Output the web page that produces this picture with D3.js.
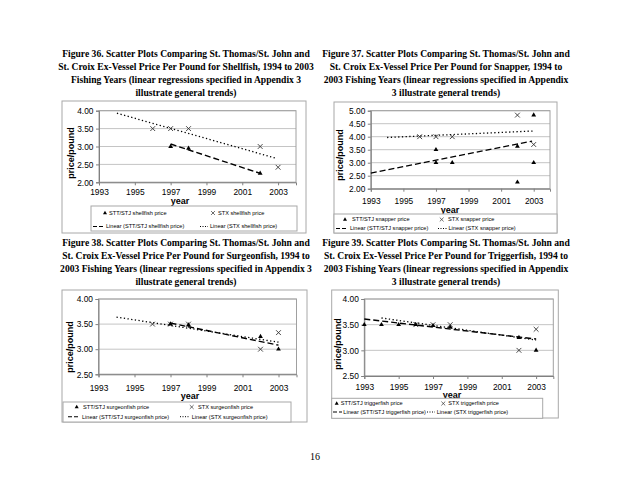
<!DOCTYPE html>
<html>
<head>
<meta charset="utf-8">
<script src="https://cdn.jsdelivr.net/npm/d3@7"></script>
<style>
  body { margin: 0; background: #fff; }
  svg text { font-family: "Liberation Sans", Arial, sans-serif; }
</style>
</head>
<body>
<svg id="page" width="630" height="487"></svg>
<script>
// ---- data ----
const species = ["shellfish", "snapper", "surgeonfish", "triggerfish"];

const captions = [
  ["Figure 36.  Scatter Plots Comparing St. Thomas/St. John and",
   "St. Croix Ex-Vessel Price Per Pound for Shellfish, 1994 to 2003",
   "Fishing Years (linear regressions specified in Appendix 3",
   "illustrate general trends)"],
  ["Figure 37.  Scatter Plots Comparing St. Thomas/St. John and",
   "St. Croix Ex-Vessel Price Per Pound for Snapper, 1994 to",
   "2003 Fishing Years (linear regressions specified in Appendix",
   "3 illustrate general trends)"],
  ["Figure 38.  Scatter Plots Comparing St. Thomas/St. John and",
   "St. Croix Ex-Vessel Price Per Pound for Surgeonfish, 1994 to",
   "2003 Fishing Years (linear regressions specified in Appendix 3",
   "illustrate general trends)"],
  ["Figure 39.  Scatter Plots Comparing St. Thomas/St. John and",
   "St. Croix Ex-Vessel Price Per Pound for Triggerfish, 1994 to",
   "2003 Fishing Years (linear regressions specified in Appendix",
   "3 illustrate general trends)"]
];

const xTicks = [1993, 1995, 1997, 1999, 2001, 2003];

// shellfish
const shellSttYears = [1997, 1998, 2002];
const shellSttPrice = [3.00, 2.95, 2.25];
const shellStxYears = [1996, 1997, 1998, 2002, 2003];
const shellStxPrice = [3.50, 3.50, 3.50, 3.00, 2.42];
const shellSttTrend = [[1997, 3.07], [2002, 2.25]];
const shellStxTrend = [[1994, 3.93], [2002.9, 2.67]];
const shellYTicks = [2.00, 2.50, 3.00, 3.50, 4.00];

// snapper
const snapSttYears = [1997, 1997, 1998, 2002, 2002, 2003, 2003];
const snapSttPrice = [3.50, 3.00, 3.00, 3.63, 2.25, 4.83, 3.00];
const snapStxYears = [1996, 1997, 1998, 2002, 2003];
const snapStxPrice = [4.00, 4.00, 4.00, 4.83, 3.70];
const snapSttTrend = [[1993, 2.60], [2002.9, 3.83]];
const snapStxTrend = [[1994, 3.97], [2003, 4.22]];
const snapYTicks = [2.00, 2.50, 3.00, 3.50, 4.00, 4.50, 5.00];

// surgeonfish
const surgSttYears = [1997, 1998, 2002, 2003];
const surgSttPrice = [3.50, 3.48, 3.25, 3.00];
const surgStxYears = [1996, 1997, 1998, 2002, 2003];
const surgStxPrice = [3.50, 3.50, 3.50, 3.00, 3.33];
const surgSttTrend = [[1997, 3.52], [2003, 3.08]];
const surgStxTrend = [[1994, 3.64], [2003, 3.14]];
const surgYTicks = [2.50, 3.00, 3.50, 4.00];

// triggerfish
const trigSttYears = [1993, 1994, 1995, 1996, 1997, 1998, 2002, 2003];
const trigSttPrice = [3.50, 3.50, 3.50, 3.50, 3.48, 3.45, 3.25, 3.00];
const trigStxYears = [1996, 1997, 1998, 2002, 2003];
const trigStxPrice = [3.50, 3.50, 3.50, 3.00, 3.41];
const trigSttTrend = [[1993, 3.61], [2003, 3.22]];
const trigStxTrend = [[1994, 3.63], [2003, 3.20]];
const trigYTicks = [2.50, 3.00, 3.50, 4.00];

// ---- layout of each panel (positions only) ----
const panels = [
  { cap: { x: 186, y: 54 }, box: [62, 101, 244, 132], plot: [99, 110.7, 296, 182.3], xPad: 4,
    yLab: [71, 153], xLab: [180, 200.5],
    leg: { box: [91, 206, 206, 25], r1: 213, r2: 226.5, tri: 105, t1: 109, x: 213, t2: 218, dash: [93, 103], t3: 106, dot: [200, 208], t4: 210 },
    stt: [shellSttYears, shellSttPrice], stx: [shellStxYears, shellStxPrice],
    trend: [shellSttTrend, shellStxTrend], yTicks: shellYTicks },
  { cap: { x: 446, y: 54 }, box: [334, 102, 223, 131], plot: [370.8, 110.7, 550, 188.7], xPad: 6.5,
    yLab: [340, 155], xLab: [450, 210],
    leg: { box: [334, 214, 223, 19], r1: 219.5, r2: 228.5, tri: 345, t1: 352, x: 441.7, t2: 448, dash: [336, 348], t3: 350, dot: [438, 447], t4: 448.5 },
    stt: [snapSttYears, snapSttPrice], stx: [snapStxYears, snapStxPrice],
    trend: [snapSttTrend, snapStxTrend], yTicks: snapYTicks },
  { cap: { x: 186, y: 243 }, box: [62, 290, 245, 132], plot: [98.5, 299, 296.5, 374.3], xPad: 7.5,
    yLab: [70, 347], xLab: [190, 396],
    leg: { box: [63, 402, 228, 20], r1: 407, r2: 416.7, tri: 76.7, t1: 83, x: 191.7, t2: 198, dash: [68, 80], t3: 82, dot: [180, 190], t4: 191.7 },
    stt: [surgSttYears, surgSttPrice], stx: [surgStxYears, surgStxPrice],
    trend: [surgSttTrend, surgStxTrend], yTicks: surgYTicks },
  { cap: { x: 446, y: 243 }, box: [331.7, 290, 226.6, 128], plot: [364.3, 299, 553.3, 376], xPad: 5.5,
    yLab: [338, 344], xLab: [452, 394.5],
    leg: { box: [331.7, 398.3, 211, 20], r1: 403.5, r2: 412, tri: 336.7, t1: 340.7, x: 443.3, t2: 448.3, dash: [333, 342], t3: 343.3, dot: [427, 435], t4: 436.7 },
    stt: [trigSttYears, trigSttPrice], stx: [trigStxYears, trigStxPrice],
    trend: [trigSttTrend, trigStxTrend], yTicks: trigYTicks }
];

const svg = d3.select("#page");
const tri = d3.symbol().type(d3.symbolTriangle).size(10);
const cross = "M-2.4,-2.4L2.4,2.4M-2.4,2.4L2.4,-2.4";

function drawPanel(p, i) {
  const sp = species[i];
  const g = svg.append("g");

  // caption, bold serif, centered
  g.append("g").selectAll("text").data(captions[i]).join("text")
    .attr("x", p.cap.x)
    .attr("y", (d, k) => p.cap.y + k * 13)
    .attr("dy", "0.35em")
    .attr("text-anchor", "middle")
    .style("font-family", "'Liberation Serif', 'Times New Roman', serif")
    .style("font-weight", "bold")
    .style("font-size", "9.6px")
    .text(d => d);

  // chart frame
  g.append("rect")
    .attr("x", p.box[0]).attr("y", p.box[1])
    .attr("width", p.box[2]).attr("height", p.box[3])
    .attr("fill", "#fff").attr("stroke", "#a8a8a8").attr("stroke-width", 1);

  const [l, t, r, b] = p.plot;
  const yDom = d3.extent(p.yTicks);
  const x = d3.scaleLinear().domain([1993, 2004]).range([l, r]);
  const y = d3.scaleLinear().domain(yDom).range([b, t]);

  // gridlines
  g.append("g").selectAll("line").data(p.yTicks).join("line")
    .attr("x1", l).attr("x2", r)
    .attr("y1", d => y(d)).attr("y2", d => y(d))
    .attr("stroke", "#c4c4c4").attr("stroke-width", 1);

  // plot area border
  g.append("rect")
    .attr("x", l).attr("y", t).attr("width", r - l).attr("height", b - t)
    .attr("fill", "none").attr("stroke", "#a0a0a0").attr("stroke-width", 1);

  // axes
  const xAxis = g.append("g")
    .attr("transform", `translate(0,${b})`)
    .call(d3.axisBottom(x).tickValues(xTicks).tickFormat(d3.format("d")).tickSize(3).tickPadding(p.xPad));
  const yAxis = g.append("g")
    .attr("transform", `translate(${l},0)`)
    .call(d3.axisLeft(y).tickValues(p.yTicks).tickFormat(d3.format(".2f")).tickSize(3).tickPadding(2.5));
  [xAxis, yAxis].forEach(a => {
    a.select(".domain").attr("stroke", "#808080");
    a.selectAll(".tick line").attr("stroke", "#808080");
    a.selectAll(".tick text").attr("fill", "#000")
      .style("font-size", "8.4px")
      .style("font-family", "'Liberation Sans', Arial, sans-serif");
  });

  // axis titles
  g.append("text")
    .attr("x", p.xLab[0]).attr("y", p.xLab[1]).attr("dy", "0.35em")
    .attr("text-anchor", "middle")
    .style("font-weight", "bold").style("font-size", "9px")
    .text("year");
  g.append("text")
    .attr("transform", `translate(${p.yLab[0]},${p.yLab[1]}) rotate(-90)`)
    .attr("dy", "0.35em")
    .attr("text-anchor", "middle")
    .style("font-weight", "bold").style("font-size", "9px")
    .text("price/pound");

  // trend lines
  const line = d3.line().x(d => x(d[0])).y(d => y(d[1]));
  g.append("path").datum(p.trend[0])
    .attr("d", line).attr("fill", "none")
    .attr("stroke", "#000").attr("stroke-width", 1.4)
    .attr("stroke-dasharray", "6,3");
  g.append("path").datum(p.trend[1])
    .attr("d", line).attr("fill", "none")
    .attr("stroke", "#000").attr("stroke-width", 1.3)
    .attr("stroke-dasharray", "1.3,2.4");

  // STX crosses
  g.append("g").selectAll("path").data(d3.zip(p.stx[0], p.stx[1])).join("path")
    .attr("transform", d => `translate(${x(d[0])},${y(d[1])})`)
    .attr("d", cross)
    .attr("stroke", "#333").attr("stroke-width", 0.9).attr("fill", "none");

  // STT/STJ triangles
  g.append("g").selectAll("path").data(d3.zip(p.stt[0], p.stt[1])).join("path")
    .attr("transform", d => `translate(${x(d[0])},${y(d[1])})`)
    .attr("d", tri)
    .attr("fill", "#000");

  // legend
  const lg = p.leg;
  const lgG = g.append("g").style("font-size", "5.6px");
  lgG.append("rect")
    .attr("x", lg.box[0]).attr("y", lg.box[1])
    .attr("width", lg.box[2]).attr("height", lg.box[3])
    .attr("fill", "#fff").attr("stroke", "#a8a8a8").attr("stroke-width", 1);
  lgG.append("path")
    .attr("transform", `translate(${lg.tri},${lg.r1})`)
    .attr("d", d3.symbol().type(d3.symbolTriangle).size(7)).attr("fill", "#000");
  lgG.append("path")
    .attr("transform", `translate(${lg.x},${lg.r1}) scale(0.8)`)
    .attr("d", cross).attr("stroke", "#333").attr("stroke-width", 0.9);
  lgG.append("line")
    .attr("x1", lg.dash[0]).attr("x2", lg.dash[1]).attr("y1", lg.r2).attr("y2", lg.r2)
    .attr("stroke", "#000").attr("stroke-width", 1.1).attr("stroke-dasharray", "4,2");
  lgG.append("line")
    .attr("x1", lg.dot[0]).attr("x2", lg.dot[1]).attr("y1", lg.r2).attr("y2", lg.r2)
    .attr("stroke", "#000").attr("stroke-width", 1).attr("stroke-dasharray", "1,1.5");

  const items = [
    [lg.t1, lg.r1, `STT/STJ ${sp} price`],
    [lg.t2, lg.r1, `STX ${sp} price`],
    [lg.t3, lg.r2, `Linear (STT/STJ ${sp} price)`],
    [lg.t4, lg.r2, `Linear (STX ${sp} price)`]
  ];
  lgG.selectAll("text.item").data(items).join("text")
    .attr("class", "item")
    .attr("x", d => d[0]).attr("y", d => d[1]).attr("dy", "0.35em")
    .text(d => d[2]);
}

panels.forEach(drawPanel);

// page number
svg.append("text")
  .attr("x", 315).attr("y", 456).attr("dy", "0.35em")
  .attr("text-anchor", "middle")
  .style("font-family", "'Liberation Serif', 'Times New Roman', serif")
  .style("font-size", "10px")
  .text("16");
</script>
</body>
</html>
